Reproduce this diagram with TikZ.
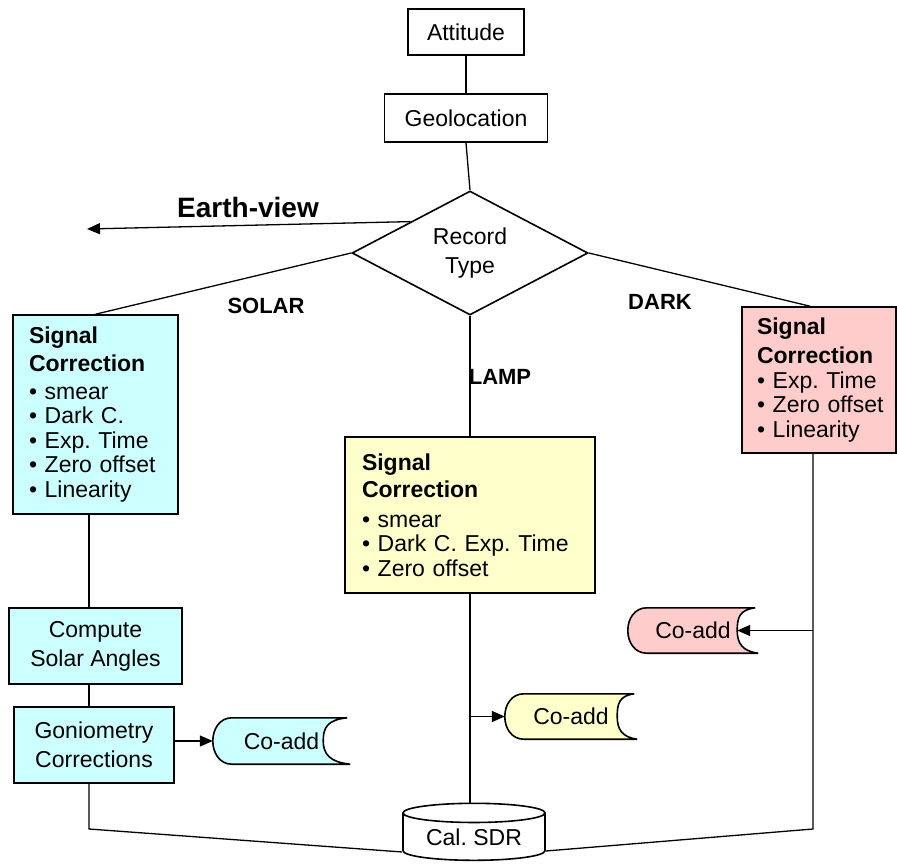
\documentclass[tikz,border=0pt]{standalone}
\usepackage{fontspec}
\setmainfont{Liberation Sans}
\usetikzlibrary{shapes.geometric,arrows.meta,calc,backgrounds}
\definecolor{cyanfill}{HTML}{CCFFFF}
\definecolor{yelfill}{HTML}{FFFFCC}
\definecolor{pinkfill}{HTML}{FFCCCC}
\frenchspacing
\newcommand\coaddpath[3]{%
  \draw[line width=1.6pt, fill=#2]
    ($(#1.north west)+(19,0)$) .. controls ($(#1.north west)+(7,0)$) and ($(#1.west)+(0,-12)$) .. (#1.west)
    .. controls ($(#1.west)+(0,12)$) and ($(#1.south west)+(7,0)$) .. ($(#1.south west)+(19,0)$)
    -- (#1.south east)
    .. controls ($(#1.south east)+(-0.75*#3,-2)$) and ($(#1.east)+(-#3,13)$) .. ($(#1.east)+(-#3,0)$)
    .. controls ($(#1.east)+(-#3,-13)$) and ($(#1.north east)+(-0.75*#3-3,2)$) .. ($(#1.north east)+(-3,0)$)
    -- cycle;}
\begin{document}
\begin{tikzpicture}[x=1pt,y=-1pt,
  txt/.style={font=\fontsize{23}{24.5}\selectfont},
  box/.style={draw, line width=1.6pt, inner sep=0pt, align=center, txt},
  listbox/.style={draw, line width=1.6pt, inner xsep=16pt, inner ysep=0pt, align=left, txt},
  conn/.style={line width=1.3pt},
  arr/.style={conn, -{Triangle[length=13pt,width=11pt]}},
  lbl/.style={font=\bfseries\fontsize{22}{24}\selectfont, inner sep=0pt},
  coadd/.style={inner sep=0pt, txt},
]
\useasboundingbox (0,0) rectangle (897,867);

% top chain
\node[box, minimum width=116pt, minimum height=46pt] (att) at (466,32) {Attitude};
\node[box, minimum width=163pt, minimum height=48pt] (geo) at (466,118) {Geolocation};
\node[diamond, draw, line width=1.6pt, aspect=1.9, inner sep=0pt, minimum width=236pt, minimum height=124pt, align=center, txt] (rec) at (470,253) {Record\\[4.5pt]Type};

% signal correction boxes
\node[listbox, fill=cyanfill, text width=133pt, minimum height=199pt] (solar) at (95.5,414.5)
  {\textbf{Signal}\\[4pt]\textbf{Correction}\\[3pt]• smear\\• Dark C.\\• Exp. Time\\• Zero offset\\• Linearity};
\node[listbox, inner xsep=15pt, fill=pinkfill, text width=124pt, minimum height=146pt] (dark) at (819,380)
  {\textbf{Signal}\\[5pt]\textbf{Correction}\\[0pt]\mbox{• Exp. Time}\\\mbox{• Zero offset}\\\mbox{• Linearity}};
\node[listbox, inner xsep=17pt, fill=yelfill, text width=216pt, minimum height=156pt] (lamp) at (470,515)
  {\textbf{Signal}\\[3pt]\textbf{Correction}\\[5pt]• smear\\\mbox{• Dark C. Exp. Time}\\• Zero offset};

% solar chain
\node[box, fill=cyanfill, minimum width=173pt, minimum height=76pt] (comp) at (95.5,646) {Compute\\[4.5pt]Solar Angles};
\node[box, fill=cyanfill, minimum width=160pt, minimum height=76pt] (gonio) at (94,745) {Goniometry\\[4.5pt]Corrections};

% co-add stores
\node[coadd, minimum width=137pt, minimum height=46pt] (ca1) at (281.5,741) {Co-add};
\node[coadd, minimum width=132pt, minimum height=45pt] (ca2) at (571,716.5) {Co-add};
\node[coadd, minimum width=130pt, minimum height=45pt] (ca3) at (693,630.5) {Co-add};
\begin{scope}[on background layer]
  \coaddpath{ca1}{cyanfill}{27}
  \coaddpath{ca2}{yelfill}{20}
  \coaddpath{ca3}{pinkfill}{21}
\end{scope}

% output store
\node[cylinder, shape border rotate=90, draw, line width=1.6pt, fill=white, aspect=0.2,
      minimum width=142pt, minimum height=57pt, inner sep=0pt, txt] (sdr) at (474,837) {Cal. SDR};

% labels
\node[font=\bfseries\fontsize{28}{30}\selectfont, inner sep=0pt] (lev) at (248,207) {Earth-view};
\node[lbl] (lsolar) at (266,306) {SOLAR};
\node[lbl] (ldark) at (660,302) {DARK};
\node[lbl] (llamp) at (500,377) {LAMP};

% helper coordinates
\coordinate (sx) at (89,0);
\coordinate (dx) at (813,0);
\coordinate (ev) at (87,229);
\coordinate (bl) at (89,829);
\coordinate (br) at (813,829);
\coordinate (ca3in) at ($(ca3.east)+(-21,0)$);

% connectors
\draw[conn] (att) -- (geo);
\draw[conn] (geo.south) -- (rec.north);
\draw[arr] (rec.north west) -- (ev);
\draw[conn] (rec.west) -- (solar.north);
\draw[conn] (rec.east) -- ([xshift=-9pt]dark.north);
\draw[conn] (rec.south) -- (lamp.north);
\draw[conn] (solar.south -| sx) -- (comp.north -| sx);
\draw[conn] (comp.south -| sx) -- (gonio.north -| sx);
\draw[conn] (gonio.south -| sx) -- (bl) -- ($(sdr.west)+(0,15)$);
\draw[conn] (dark.south -| dx) -- (br) -- ($(sdr.east)+(0,14)$);
\draw[conn] (lamp.south) -- (lamp.south |- sdr.north);
\draw[arr] (gonio.east |- ca1.west) -- (ca1.west);
\draw[arr] (lamp.south |- ca2.west) -- (ca2.west);
\draw[arr] (dx |- ca3.east) -- (ca3in);
\end{tikzpicture}
\end{document}
